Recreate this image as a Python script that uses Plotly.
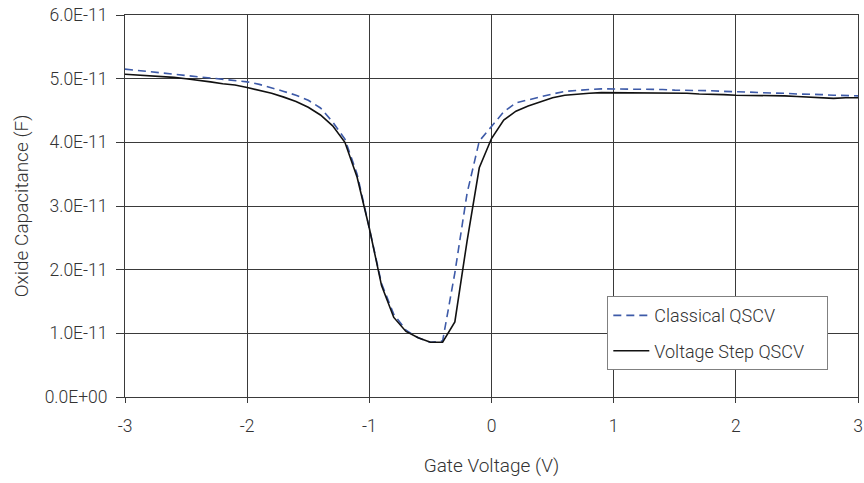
import plotly.graph_objects as go

# Gate voltage (V)
voltage = [round(-3.0 + 0.1 * i, 1) for i in range(61)]

# Classical QSCV, oxide capacitance in units of 1E-11 F
classical = [5.15, 5.13, 5.12, 5.10, 5.08, 5.06, 5.04, 5.02, 5.00, 4.98,
             4.95, 4.91, 4.86, 4.80, 4.74, 4.66, 4.54, 4.32, 4.05, 3.50,
             2.65, 1.78, 1.30, 1.05, 0.93, 0.86, 0.88, 1.95, 3.20, 4.02,
             4.25, 4.48, 4.62, 4.67, 4.72, 4.76, 4.80, 4.82, 4.83, 4.84,
             4.84, 4.84, 4.84, 4.83, 4.83, 4.82, 4.82, 4.81, 4.81, 4.80,
             4.80, 4.79, 4.78, 4.78, 4.77, 4.76, 4.76, 4.75, 4.74, 4.73,
             4.73]

# Voltage Step QSCV, oxide capacitance in units of 1E-11 F
voltage_step = [5.07, 5.06, 5.05, 5.04, 5.02, 5.00, 4.98, 4.95, 4.92, 4.90,
                4.86, 4.82, 4.77, 4.71, 4.64, 4.55, 4.43, 4.26, 4.00, 3.45,
                2.65, 1.75, 1.25, 1.03, 0.93, 0.86, 0.86, 1.18, 2.45, 3.60,
                4.06, 4.35, 4.49, 4.57, 4.64, 4.70, 4.74, 4.76, 4.77, 4.78,
                4.78, 4.78, 4.78, 4.78, 4.77, 4.77, 4.77, 4.76, 4.76, 4.75,
                4.74, 4.74, 4.74, 4.73, 4.73, 4.72, 4.71, 4.70, 4.69, 4.70,
                4.70]

series_names = ["Classical QSCV", "Voltage Step QSCV"]

scale = 1e-11
x_ticks = [-3, -2, -1, 0, 1, 2, 3]
y_ticks = [0, 1e-11, 2e-11, 3e-11, 4e-11, 5e-11, 6e-11]
y_tick_labels = ["0.0E+00", "1.0E-11", "2.0E-11", "3.0E-11", "4.0E-11", "5.0E-11", "6.0E-11"]

FONT = "Roboto, sans-serif"
TICK_FS = 17.5
TITLE_FS = 19
LEG_FS = 18
TXT = "#333333"
GRID = "#3a3a3a"
PAD = "\u00a0" * 4  # extra room at the right of the legend box

fig = go.Figure()
fig.add_trace(go.Scatter(
    x=voltage, y=[v * scale for v in classical], mode="lines",
    name=series_names[0], legendgroup="a",
    line=dict(color="#3d5aa8", width=1.6, dash="8px,5px"),
))
fig.add_trace(go.Scatter(
    x=voltage, y=[v * scale for v in voltage_step], mode="lines",
    name=series_names[1] + PAD, legendgroup="b",
    line=dict(color="#111111", width=1.6),
))

fig.update_layout(
    width=864, height=483,
    margin=dict(l=125, r=6, t=15, b=86, autoexpand=False),
    paper_bgcolor="white", plot_bgcolor="white",
    font=dict(family=FONT, size=TICK_FS, color=TXT, weight=300),
    showlegend=True, hovermode=False,
    legend=dict(
        x=0.658, y=0.264, xanchor="left", yanchor="top",
        bgcolor="white", bordercolor="#808080", borderwidth=1,
        font=dict(family=FONT, size=LEG_FS, color=TXT, weight=300),
        tracegroupgap=9, itemwidth=36,
    ),
)

fig.update_xaxes(
    range=[-3, 3], tickvals=x_ticks, ticktext=[str(t) for t in x_ticks],
    tickfont=dict(family=FONT, size=TICK_FS, color=TXT, weight=300),
    showgrid=True, gridcolor=GRID, gridwidth=1,
    showline=True, linecolor=GRID, linewidth=1, mirror=True,
    ticks="outside", ticklen=5, tickcolor=GRID, ticklabelstandoff=8,
    ticklabeloverflow="allow", automargin=False,
    zeroline=False,
    title=dict(text="Gate Voltage (V)", standoff=23, font=dict(family=FONT, size=TITLE_FS, color=TXT, weight=300)),
)
fig.update_yaxes(
    range=[0, 6e-11], tickvals=y_ticks, ticktext=y_tick_labels,
    tickfont=dict(family=FONT, size=TICK_FS, color=TXT, weight=300),
    showgrid=True, gridcolor=GRID, gridwidth=1,
    showline=True, linecolor=GRID, linewidth=1, mirror=True,
    ticks="outside", ticklen=8, tickcolor=GRID, ticklabelstandoff=5,
    ticklabeloverflow="allow", automargin=False,
    zeroline=False,
    title=dict(text="Oxide Capacitance (F)", standoff=10, font=dict(family=FONT, size=TITLE_FS, color=TXT, weight=300)),
)

fig.write_html(
    "out.html",
    config={"displayModeBar": False, "staticPlot": True},
    post_script="document.body.style.margin='0';",
)
